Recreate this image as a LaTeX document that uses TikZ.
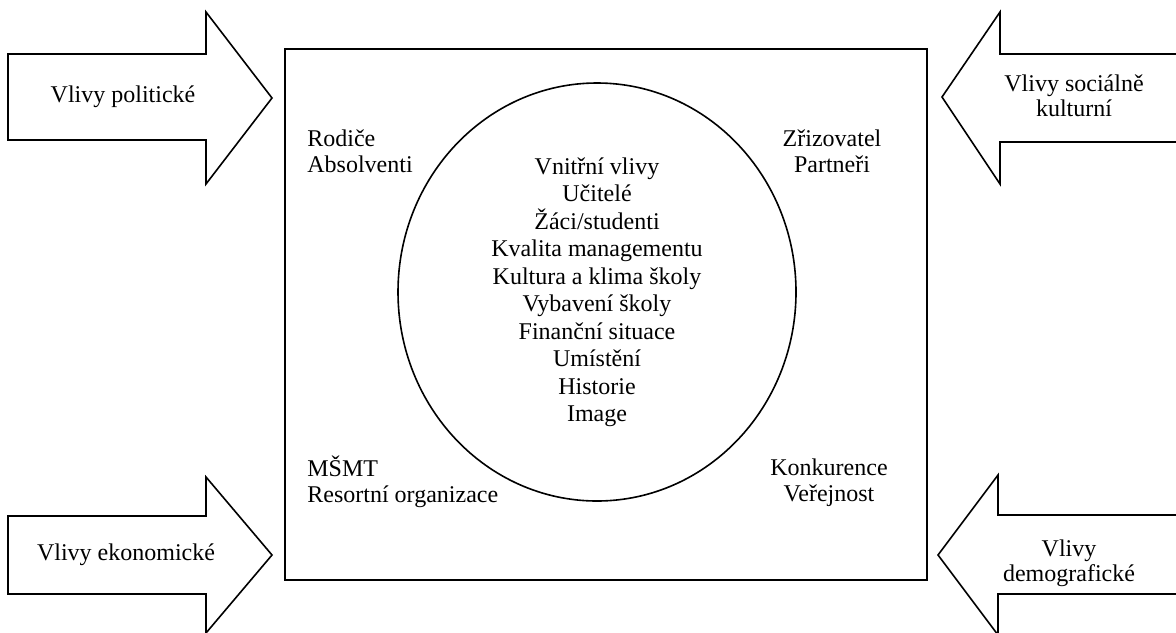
\documentclass[tikz,border=0pt]{standalone}
\usepackage{fontspec}
\setmainfont{Liberation Serif}
\usetikzlibrary{shapes.geometric}

\tikzset{
  outline/.style={draw, line width=0.8pt},
  infotext/.style={font=\fontsize{12}{13}\selectfont, inner sep=0pt, align=center},
  influence/.style={outline, fill=white, line join=miter},
}

\begin{document}
\begin{tikzpicture}[x=0.5pt, y=-0.5pt]
    \useasboundingbox (0,0) rectangle (1176,632);

    % School frame with the inner circle
    \node[outline, rectangle, minimum width=321pt, minimum height=265.5pt] (frame) at (606,314.5) {};
    \node[outline, ellipse, inner sep=0pt, minimum width=199pt, minimum height=209pt,
          font=\fontsize{12}{13.75}\selectfont, align=center] (inner) at (597,292)
        {Vnitřní vlivy\\Učitelé\\Žáci/studenti\\Kvalita managementu\\Kultura a klima školy\\Vybavení školy\\Finanční situace\\Umístění\\Historie\\Image};

    % Actors inside the frame
    \node[infotext, align=left, anchor=west] (rodice) at (307,151) {Rodiče\\Absolventi};
    \node[infotext] (zrizovatel) at (832,151) {Zřizovatel\\Partneři};
    \node[infotext, align=left, anchor=west] (msmt) at (307,482) {MŠMT\\Resortní organizace};
    \node[infotext] (konkurence) at (829,483) {Konkurence\\Veřejnost};

    % Outer influences (block arrows)
    \draw[influence] (8,54) -- (206,54) -- (206,12) -- (272,98) -- (206,184) -- (206,140) -- (8,140) -- cycle;
    \node[infotext] (politicke) at (123,97) {Vlivy politické};

    \draw[influence] (1180,54) -- (1000,54) -- (1000,12) -- (942,97) -- (1000,184) -- (1000,142) -- (1180,142) -- cycle;
    \node[infotext, font=\fontsize{12}{12.5}\selectfont] (socialne) at (1074,96) {Vlivy sociálně\\kulturní};

    \draw[influence] (8,516) -- (206,516) -- (206,477) -- (272,555) -- (206,633) -- (206,594) -- (8,594) -- cycle;
    \node[infotext] (ekonomicke) at (126,555) {Vlivy ekonomické};

    \draw[influence] (1180,515) -- (998,515) -- (998,475) -- (938,555) -- (998,635) -- (998,594) -- (1180,594) -- cycle;
    \node[infotext, font=\fontsize{12}{12.5}\selectfont] (demograficke) at (1069,563) {Vlivy\\demografické};
\end{tikzpicture}
\end{document}
